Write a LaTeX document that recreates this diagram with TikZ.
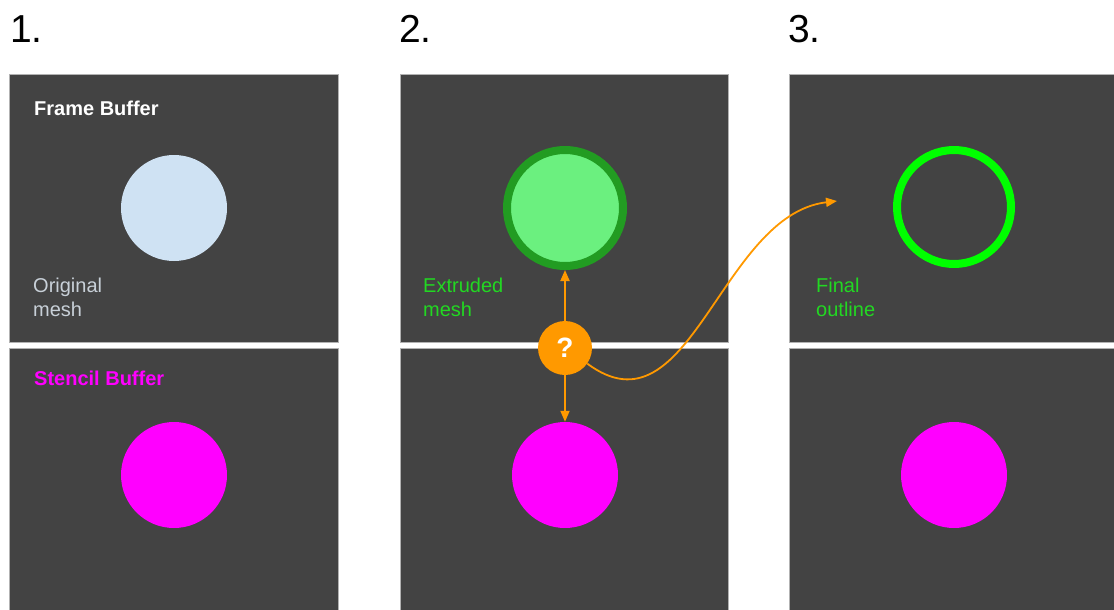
\documentclass[tikz,border=0pt]{standalone}
\usepackage{fontspec}
\setmainfont{Liberation Sans}
\usetikzlibrary{arrows.meta}
\definecolor{panelgray}{HTML}{434343}
\definecolor{meshblue}{HTML}{CFE2F3}
\definecolor{stencilmag}{HTML}{FF00FF}
\definecolor{extfill}{HTML}{6BF07F}
\definecolor{extborder}{HTML}{229C22}
\definecolor{ringgreen}{HTML}{00FF00}
\definecolor{qorange}{HTML}{FF9900}
\definecolor{labelgray}{HTML}{C8D0D8}
\definecolor{labelgreen}{HTML}{22D822}
\tikzset{
  panelbox/.style={fill=panelgray, draw=gray!60, line width=0.5pt},
  disc/.style={circle, inner sep=0pt, minimum size=106pt},
  lbl/.style={anchor=base west, inner sep=0pt, align=left, font=\fontsize{20}{24}\selectfont},
  steplbl/.style={anchor=base west, inner sep=0pt, font=\fontsize{39}{44}\selectfont},
  arr/.style={draw=qorange, line width=1.8pt, -{Triangle[length=11pt,width=9pt]}},
}
\begin{document}
\begin{tikzpicture}[x=1pt,y=-1pt]
\useasboundingbox (0,0) rectangle (1114,610);
\fill[white] (0,0) rectangle (1114,610);
% step numbers
\node[steplbl] (s1) at (10,43) {1.};
\node[steplbl] (s2) at (399,43) {2.};
\node[steplbl] (s3) at (788,43) {3.};
% panels
\draw[panelbox] (9,74) rectangle (338,342);
\draw[panelbox] (9,348) rectangle (338,611);
\draw[panelbox] (400,74) rectangle (728,342);
\draw[panelbox] (400,348) rectangle (728,611);
\draw[panelbox] (789,74) rectangle (1115,342);
\draw[panelbox] (789,348) rectangle (1115,611);
% labels
\node[lbl, text=white, font=\fontsize{20}{24}\selectfont\bfseries] (fb) at (34,115) {Frame Buffer};
\node[lbl, text=labelgray] (om) at (33,316) {Original\\mesh};
\node[lbl, text=stencilmag, font=\fontsize{20}{24}\selectfont\bfseries] (sb) at (34,385) {Stencil Buffer};
\node[lbl, text=labelgreen] (em) at (423,316) {Extruded\\mesh};
\node[lbl, text=labelgreen] (fo) at (816,316) {Final\\outline};
% circles
\node[disc, fill=meshblue] (c1) at (174,208) {};
\node[disc, fill=stencilmag] (m1) at (174,475) {};
\node[disc, fill=extfill, draw=extborder, line width=8pt, minimum size=116pt] (gc) at (565,208) {};
\node[disc, fill=stencilmag] (m2) at (565,475) {};
\node[disc, draw=ringgreen, line width=8pt, minimum size=114pt] (ring) at (954,207) {};
\node[disc, fill=stencilmag] (m3) at (954,475) {};
% question node
\node[circle, inner sep=0pt, minimum size=54pt, fill=qorange, text=white, font=\fontsize{28}{30}\selectfont\bfseries] (q) at (565,348) {?};
% connectors
\coordinate (tgt) at (837,201);
\draw[arr] (q.north) -- (gc.south);
\draw[arr] (q.south) -- (m2.north);
\draw[arr] (q.-35) .. controls (690,440) and (720,215) .. (tgt);
\end{tikzpicture}
\end{document}
